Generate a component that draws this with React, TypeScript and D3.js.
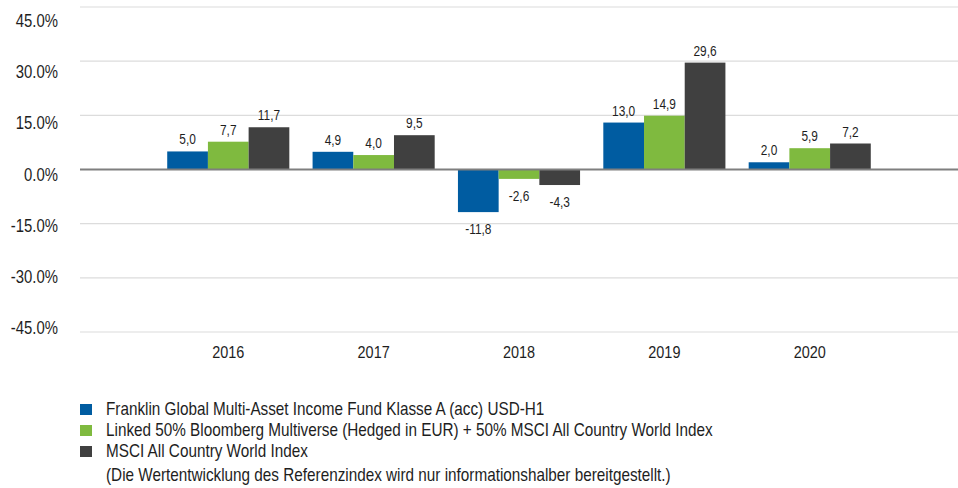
import React from "react";
import * as d3 from "d3";

// chart data
const years = ["2016", "2017", "2018", "2019", "2020"];
const seriesNames = [
  "Franklin Global Multi-Asset Income Fund Klasse A (acc) USD-H1",
  "Linked 50% Bloomberg Multiverse (Hedged in EUR) + 50% MSCI All Country World Index",
  "MSCI All Country World Index",
];
const fundValues = [5.0, 4.9, -11.8, 13.0, 2.0];
const linkedValues = [7.7, 4.0, -2.6, 14.9, 5.9];
const msciValues = [11.7, 9.5, -4.3, 29.6, 7.2];
const yTicks = [45, 30, 15, 0, -15, -30, -45];
const footnote = "(Die Wertentwicklung des Referenzindex wird nur informationshalber bereitgestellt.)";

const colors = ["#005ca1", "#7fba3f", "#404040"];
const font = "'Liberation Sans', Arial, sans-serif";

const W = 958;
const H = 488;
const left = 80;

// no narrow font installed, so squeeze regular sans horizontally
const T = ({ x, y, size, anchor = "start", children }: any) => (
  <text
    transform={`translate(${x},${y}) scale(0.85,1)`}
    textAnchor={anchor}
    fontSize={size}
    fill="#1e1e1e"
  >
    {children}
  </text>
);

const App = () => {
  const series = [fundValues, linkedValues, msciValues];

  const x0 = d3.scaleBand().domain(years).range([left, W]).paddingInner(0.16).paddingOuter(0.6);
  const x1 = d3.scaleBand().domain(["0", "1", "2"]).range([0, x0.bandwidth()]);
  const y = d3.scaleLinear().domain([-45, 45]).range([332, 7]);
  // tick labels sit on their own slightly tighter spacing
  const yLabel = d3.scaleLinear().domain([-45, 45]).range([328, 21]);

  const fmt = (v: number) => v.toFixed(1).replace(".", ",");

  return (
    <svg width={W} height={H} style={{ position: "absolute", left: 0, top: 0 }} fontFamily={font}>
      {/* grid */}
      {yTicks.filter((t) => t !== 0).map((t) => (
        <line key={t} x1={left} x2={W} y1={y(t)} y2={y(t)} stroke="#dcdcdc" strokeWidth={1.2} />
      ))}
      {yTicks.map((t) => (
        <T key={"l" + t} x={58} y={yLabel(t) + 6} size={17.5} anchor="end">
          {t.toFixed(1) + "%"}
        </T>
      ))}

      {/* bars */}
      {years.map((yr, i) => (
        <g key={yr} transform={`translate(${x0(yr)},0)`}>
          {series.map((vals, s) => {
            const v = vals[i];
            const top = y(Math.max(v, 0));
            const h = Math.abs(y(v) - y(0));
            const cx = x1(String(s))! + x1.bandwidth() / 2;
            return (
              <g key={s}>
                <rect x={x1(String(s))} y={top} width={x1.bandwidth()} height={h} fill={colors[s]} />
                <T x={cx} y={v >= 0 ? y(v) - 7 : y(v) + 22} size={14} anchor="middle">
                  {fmt(v)}
                </T>
              </g>
            );
          })}
          <T x={x0.bandwidth() / 2} y={358} size={17} anchor="middle">
            {yr}
          </T>
        </g>
      ))}

      {/* zero line */}
      <line x1={left} x2={W} y1={y(0)} y2={y(0)} stroke="#7f7f7f" strokeWidth={2} />

      {/* legend */}
      {seriesNames.map((name, s) => (
        <g key={name} transform={`translate(80,${404 + s * 21})`}>
          <rect x={0} y={0} width={12} height={11} fill={colors[s]} />
          <T x={26} y={10.5} size={18}>
            {name}
          </T>
        </g>
      ))}
      <T x={106} y={481} size={18}>
        {footnote}
      </T>
    </svg>
  );
};

export default App;
